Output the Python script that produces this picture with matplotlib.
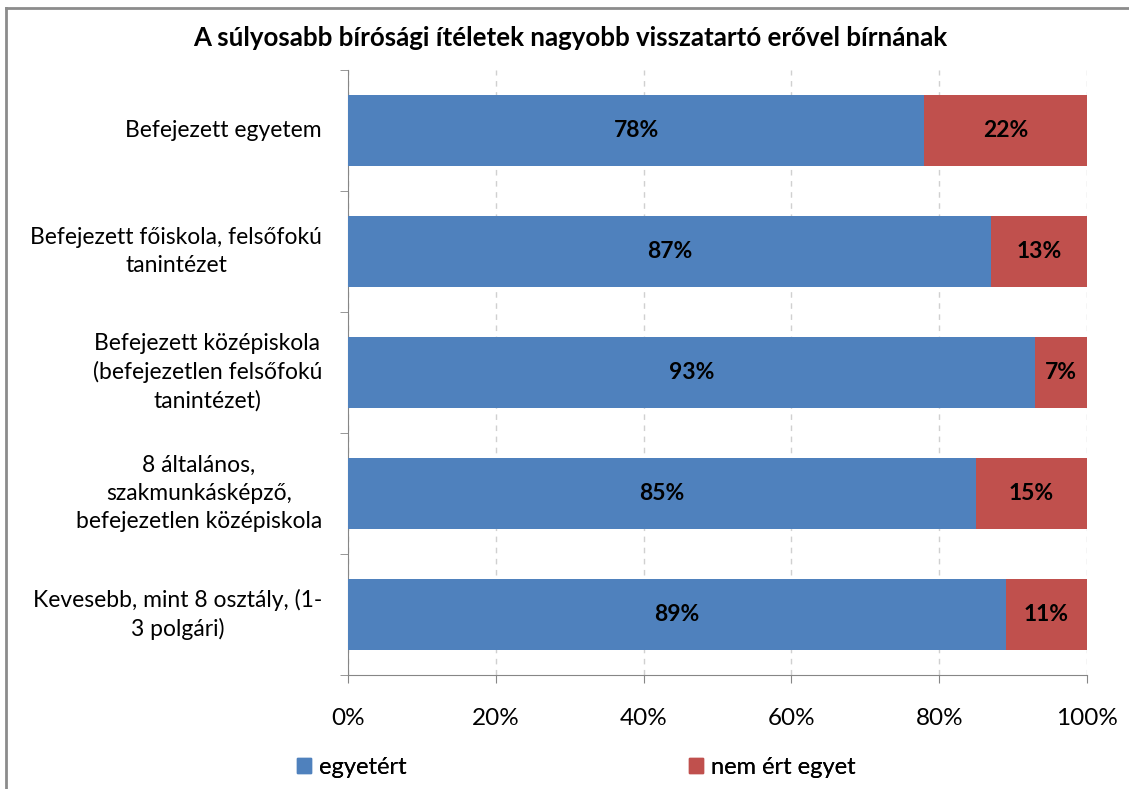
import matplotlib
matplotlib.use("Agg")
import matplotlib.pyplot as plt
from matplotlib.patches import Patch
from matplotlib.lines import Line2D
from matplotlib.ticker import FixedLocator, PercentFormatter

plt.rcParams['font.family'] = ['Lato', 'DejaVu Sans']

categories = [
    "Befejezett egyetem",
    "Befejezett főiskola, felsőfokú\ntanintézet",
    "Befejezett középiskola\n(befejezetlen felsőfokú\ntanintézet)",
    "8 általános,\nszakmunkásképző,\nbefejezetlen középiskola",
    "Kevesebb, mint 8 osztály, (1-\n3 polgári)",
]
agree = [78, 87, 93, 85, 89]
disagree = [22, 13, 7, 15, 11]
series_names = ["egyetért", "nem ért egyet"]
title = "A súlyosabb bírósági ítéletek nagyobb visszatartó erővel bírnának"

blue = "#4F81BD"
red = "#C0504D"
W, H = 1129, 789

fig = plt.figure(figsize=(W/100, H/100), dpi=100)
# partial frame (top and left edges visible)
fig.add_artist(Line2D([6/W, 1], [1-8/H, 1-8/H], transform=fig.transFigure, color="#8C8C8C", lw=2))
fig.add_artist(Line2D([6/W, 6/W], [0, 1-8/H], transform=fig.transFigure, color="#8C8C8C", lw=2))

ax = fig.add_axes([348/W, 1-675/H, (1087-348)/W, (675-70)/H])

ys = list(range(len(categories)))
ax.barh(ys, agree, height=0.585, color=blue, zorder=3)
ax.barh(ys, disagree, left=agree, height=0.585, color=red, zorder=3)
for y, a, d in zip(ys, agree, disagree):
    ax.text(a/2, y, f"{a}%", ha="center", va="center", fontsize=16.5, fontweight="bold", zorder=4)
    ax.text(a + d/2, y, f"{d}%", ha="center", va="center", fontsize=16.5, fontweight="bold", zorder=4)

ax.set_xlim(0, 100)
ax.set_ylim(len(categories)-0.5, -0.5)
ax.set_yticks(ys)
ax.set_yticklabels([])
ax.yaxis.set_minor_locator(FixedLocator([i - 0.5 for i in range(len(categories)+1)]))
ax.tick_params(axis="y", which="major", length=0)
ax.tick_params(axis="y", which="minor", length=6, color="#868686", direction="out")
# category labels: right-aligned blocks with centred lines
lab_tr = ax.get_yaxis_transform()
for y, cat in zip(ys, categories):
    ax.text(-26/(1087-348), y, cat, transform=lab_tr, ha="right", va="center",
            multialignment="center", fontsize=16.5, linespacing=1.4)
ax.set_xticks([0, 20, 40, 60, 80, 100])
ax.xaxis.set_major_formatter(PercentFormatter(decimals=0))
ax.tick_params(axis="x", length=6, color="#868686", direction="out", labelsize=17.5, pad=18)
ax.grid(axis="x", linestyle=(0, (4, 4)), color="#D0D0D0", linewidth=1, zorder=0)
for s in ["top", "right"]:
    ax.spines[s].set_visible(False)
for s in ["left", "bottom"]:
    ax.spines[s].set_color("#868686")

fig.text(570/W, 1-38/H, title, ha="center", va="center", fontsize=18.6, fontweight="bold")

for name, col, x0 in zip(series_names, [blue, red], [297, 689]):
    lg = fig.legend([Patch(color=col)], [name], loc="center left",
                    bbox_to_anchor=(x0/W, 1-767/H), frameon=False, fontsize=17,
                    handlelength=0.6, handleheight=0.6, handletextpad=0.35,
                    borderaxespad=0, borderpad=0)
    fig.add_artist(lg)

fig.savefig("out.png", dpi=100)
